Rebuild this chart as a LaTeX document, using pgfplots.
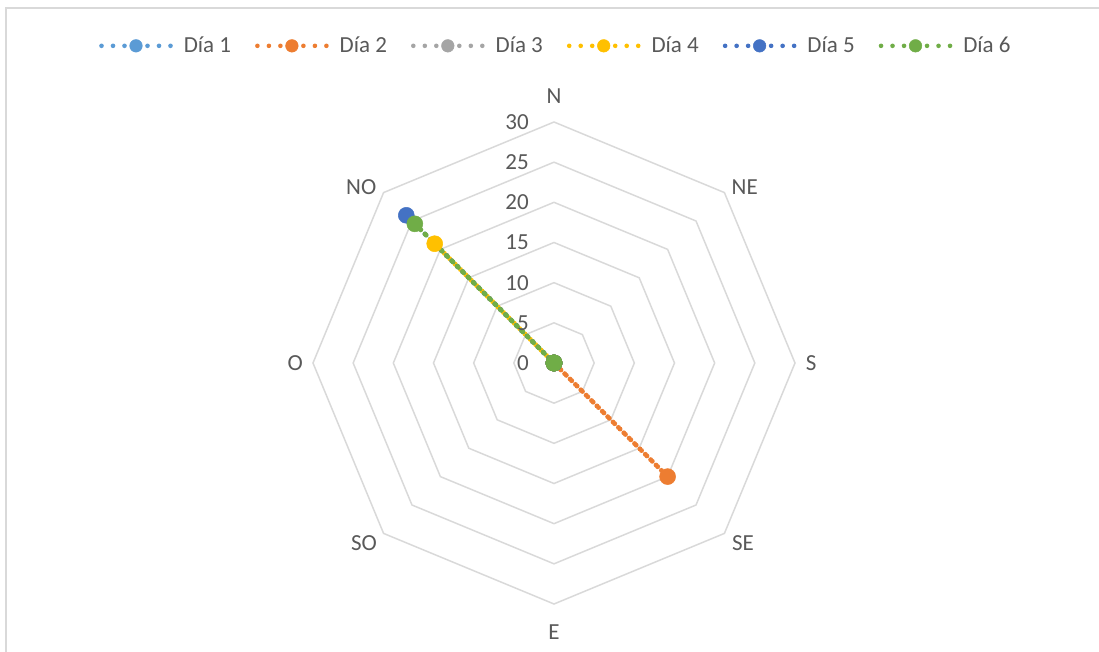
\documentclass[border=0pt]{standalone}
\usepackage{fontspec}
\setmainfont{Carlito}
\usepackage{pgfplots}
\pgfplotsset{compat=1.18}
\usepgfplotslibrary{polar}

\definecolor{txt}{HTML}{595959}
\definecolor{gridc}{HTML}{D9D9D9}
\definecolor{c1}{HTML}{5B9BD5}
\definecolor{c2}{HTML}{ED7D31}
\definecolor{c3}{HTML}{A5A5A5}
\definecolor{c4}{HTML}{FFC000}
\definecolor{c5}{HTML}{4472C4}
\definecolor{c6}{HTML}{70AD47}
\newcommand\lbl{\fontsize{23}{27}\selectfont}

\pgfplotsset{
  dia/.style={color=#1, line width=5pt, line cap=round,
    dash pattern=on 0pt off 7.6pt, mark=*, mark size=8pt,
    mark options={solid, fill=#1, draw=#1, line width=0.5pt}},
}

\begin{document}
\begin{tikzpicture}
\begin{polaraxis}[
    scale only axis, width=482pt, height=482pt,
    ymin=0, ymax=30,
    hide axis, clip=false,
    legend columns=6,
    legend style={at={(0.504,1.158)}, anchor=center, draw=none, fill=none,
      font=\lbl, text=txt,
      /tikz/every odd column/.append style={column sep=9pt},
      /tikz/every even column/.append style={column sep=22pt}},
    legend image code/.code={\draw[mark repeat=2,mark phase=2,#1,
      dash pattern=on 0pt off 11.5pt,mark size=6.3pt,line width=4.6pt]
      plot coordinates {(0pt,0pt)(34.5pt,0pt)(69pt,0pt)};},
]
% octagon grid
\pgfplotsinvokeforeach{5,10,15,20,25,30}{
  \addplot[gridc, line width=1.5pt, mark=none, forget plot]
    coordinates {(90,#1)(45,#1)(0,#1)(-45,#1)(-90,#1)(-135,#1)(180,#1)(135,#1)(90,#1)};
}
% order: N, NE, S, SE, E, SO, O, NO
\addplot[dia=c1] coordinates {(90,0)(45,0)(0,0)(-45,0)(-90,0)(-135,0)(180,0)(135,0)(90,0)};
\addlegendentry{Día 1}
\addplot[dia=c2] coordinates {(90,0)(45,0)(0,0)(-45,20)(-90,0)(-135,0)(180,0)(135,0)(90,0)};
\addlegendentry{Día 2}
\addplot[dia=c3] coordinates {(90,0)(45,0)(0,0)(-45,0)(-90,0)(-135,0)(180,0)(135,0)(90,0)};
\addlegendentry{Día 3}
\addplot[dia=c4] coordinates {(90,0)(45,0)(0,0)(-45,0)(-90,0)(-135,0)(180,0)(135,21)(90,0)};
\addlegendentry{Día 4}
\addplot[dia=c5] coordinates {(90,0)(45,0)(0,0)(-45,0)(-90,0)(-135,0)(180,0)(135,26)(90,0)};
\addlegendentry{Día 5}
\addplot[dia=c6] coordinates {(90,0)(45,0)(0,0)(-45,0)(-90,0)(-135,0)(180,0)(135,24.5)(90,0)};
\addlegendentry{Día 6}
% value labels
\pgfplotsinvokeforeach{0,5,10,15,20,25,30}{
  \node[anchor=east, inner sep=0pt, xshift=-25pt, text=txt, font=\lbl] at (axis cs:90,#1) {#1};
}
% direction labels
\node[text=txt, font=\lbl] at (axis cs:90,33.2) {N};
\node[text=txt, font=\lbl] at (axis cs:42.7,32.3) {NE};
\node[text=txt, font=\lbl] at (axis cs:0,32.0) {S};
\node[text=txt, font=\lbl] at (axis cs:-43.6,32.5) {SE};
\node[text=txt, font=\lbl] at (axis cs:-90,33.5) {E};
\node[text=txt, font=\lbl] at (axis cs:-136.5,32.6) {SO};
\node[text=txt, font=\lbl] at (axis cs:180,32.2) {O};
\node[text=txt, font=\lbl] at (axis cs:137.6,32.5) {NO};
\coordinate (c) at (axis cs:0,0);
\end{polaraxis}
\draw[gridc, line width=1.5pt] ([shift={(-548pt,-300pt)}]c) -- ([shift={(-548pt,355pt)}]c) -- ([shift={(560pt,355pt)}]c);
\pgfresetboundingbox
\path[use as bounding box] ([shift={(-554pt,-289pt)}]c) rectangle ([shift={(545pt,363pt)}]c);
\end{tikzpicture}
\end{document}
